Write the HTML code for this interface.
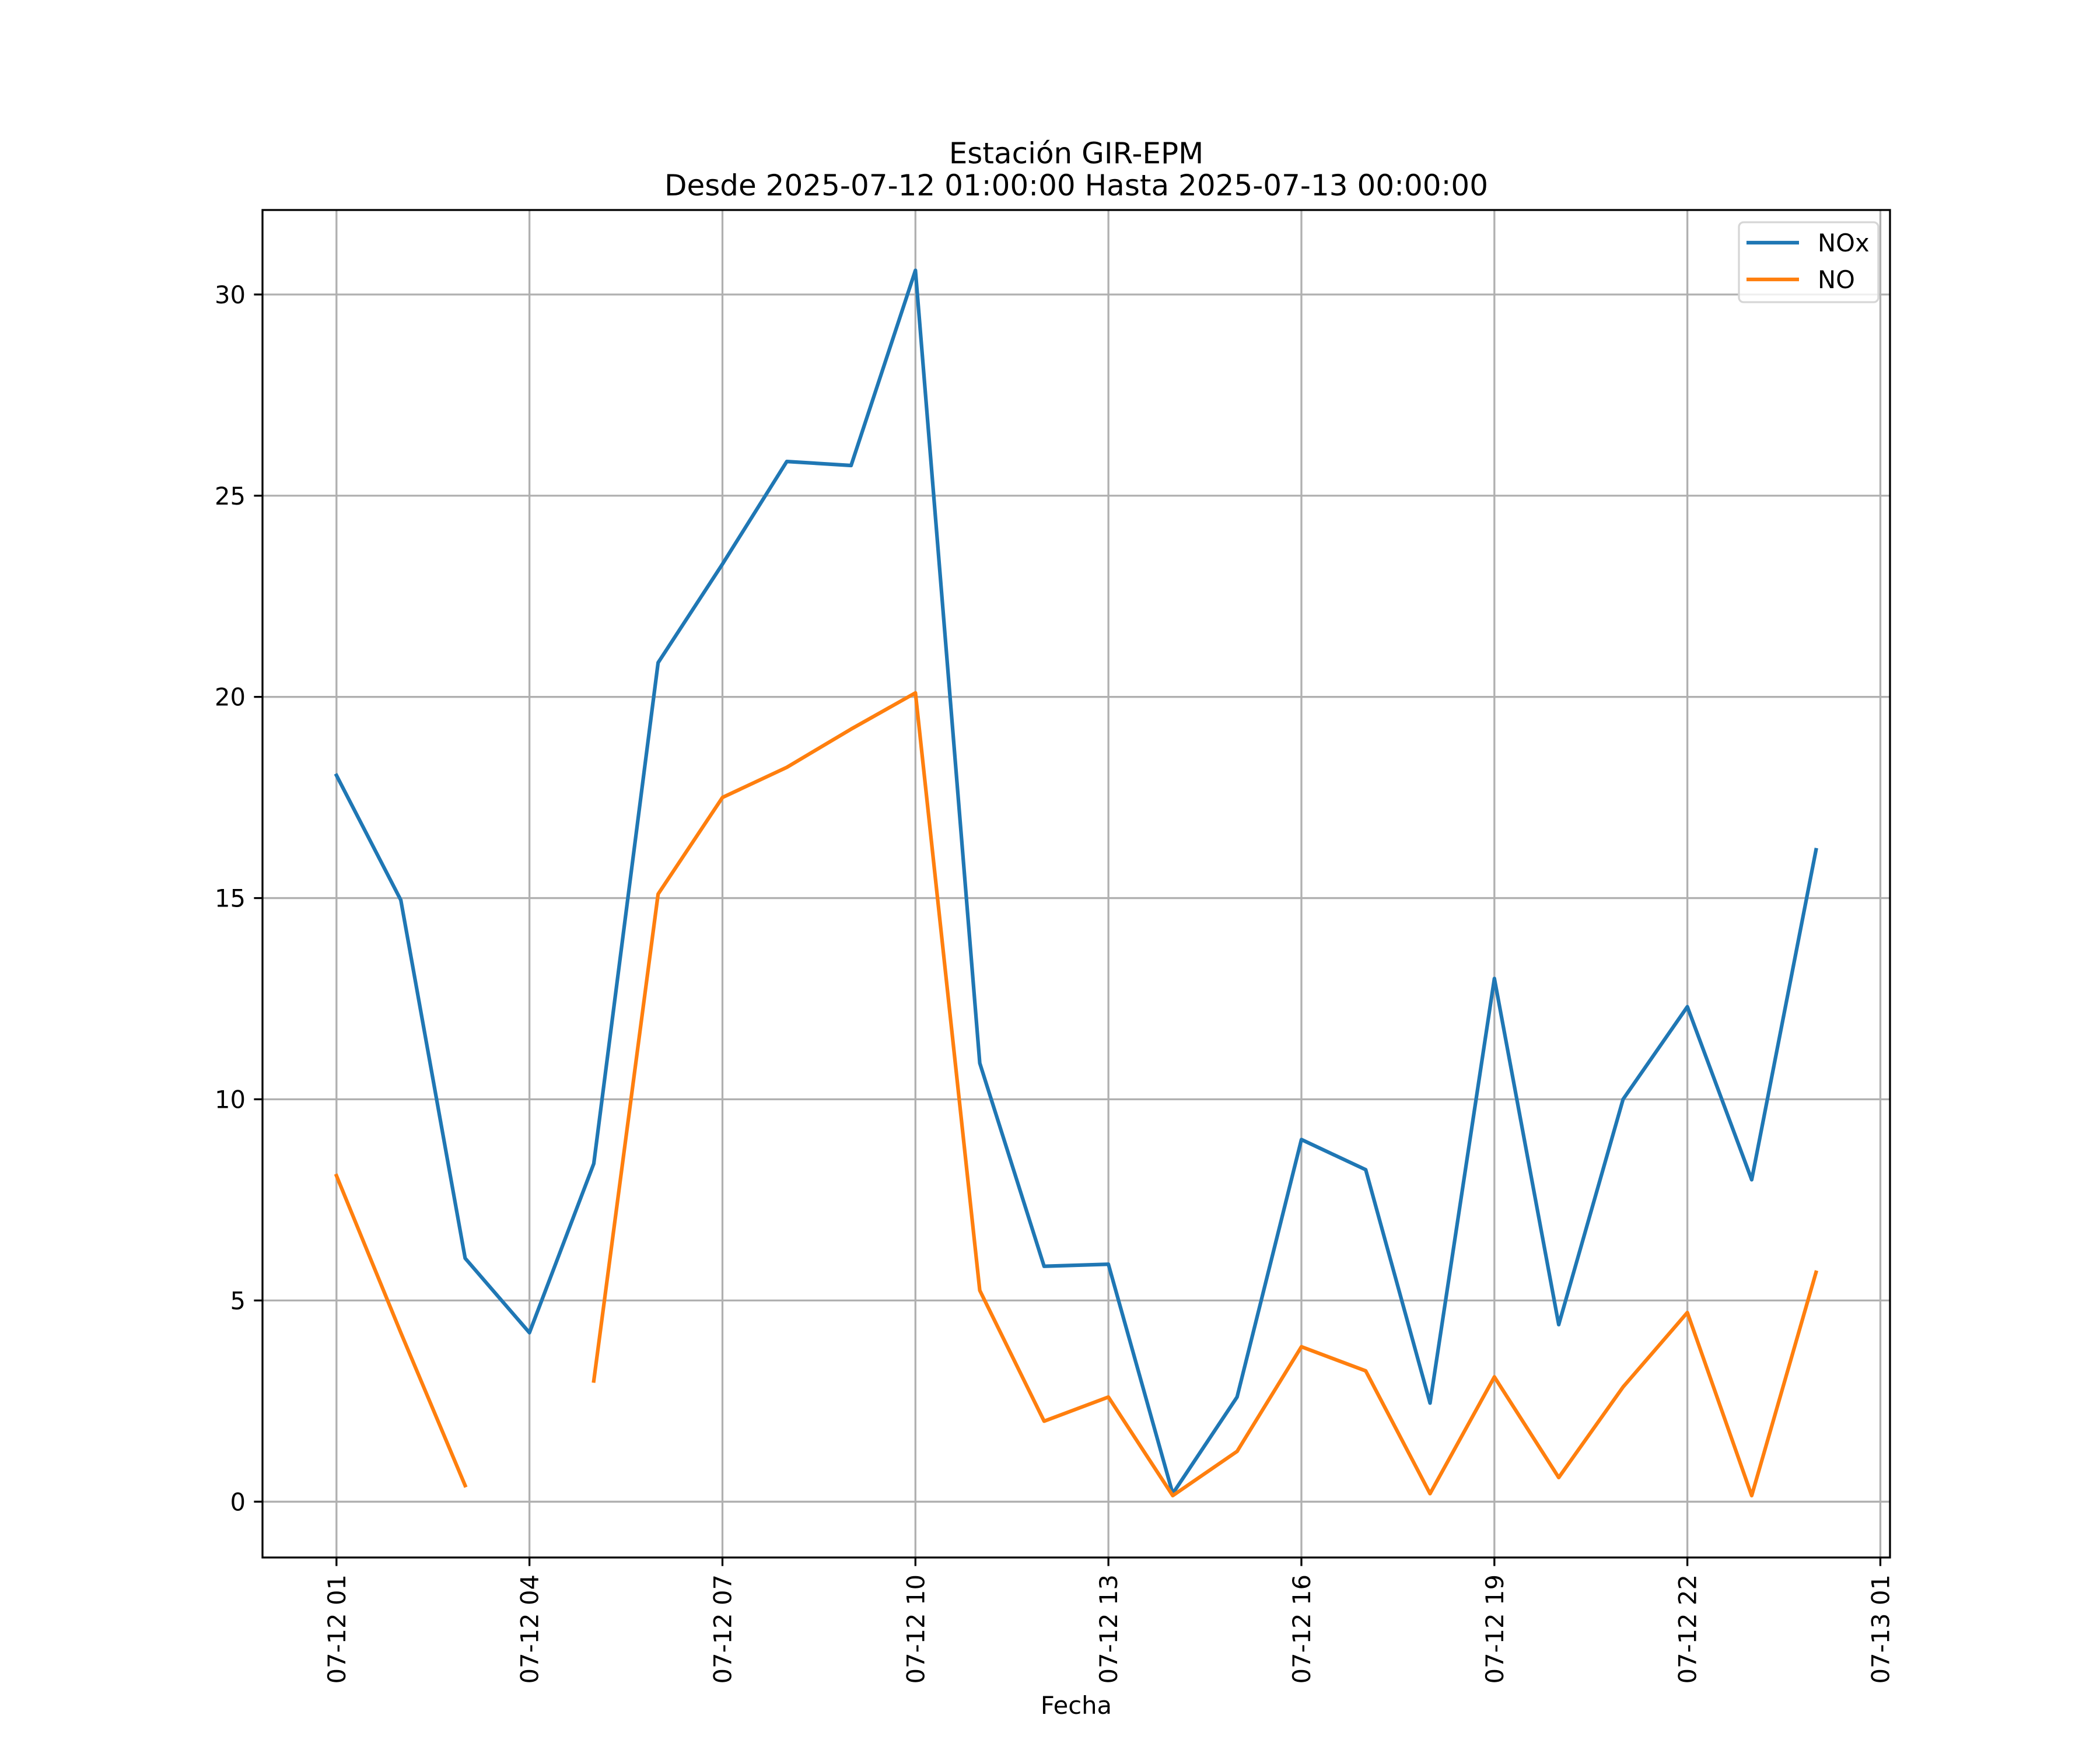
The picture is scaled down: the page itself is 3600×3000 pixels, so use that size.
<!DOCTYPE html>
<html><head><meta charset="utf-8"><style>
html,body{margin:0;padding:0;background:#fff;}
svg{display:block;font-family:"DejaVu Sans","Liberation Sans",sans-serif;}
</style></head><body>
<svg id="chart" width="3600" height="3000" viewBox="0 0 3600 3000" xmlns="http://www.w3.org/2000/svg">
<rect x="0" y="0" width="3600" height="3000" fill="#fff"/>
<g id="grid"></g>
<g id="series"></g>
<g id="axes"></g>
<text x="1845" y="280" font-size="50" text-anchor="middle">Estación GIR-EPM</text>
<text x="1845" y="335" font-size="50" text-anchor="middle">Desde 2025-07-12 01:00:00 Hasta 2025-07-13 00:00:00</text>
<text x="1845" y="2938" font-size="41.7" text-anchor="middle">Fecha</text>
<g>
<rect x="2981" y="381" width="239" height="137" rx="8" fill="#fff" fill-opacity="0.8" stroke="#d6d6d6" stroke-width="3.3"/>
<line x1="2994" y1="416" x2="3084" y2="416" stroke="#1f77b4" stroke-width="6.25"/>
<text x="3116" y="431" font-size="41.7">NOx</text>
<line x1="2994" y1="479" x2="3084" y2="479" stroke="#ff7f0e" stroke-width="6.25"/>
<text x="3116" y="494" font-size="41.7">NO</text>
</g>
</svg>
<script>
const hours = [0,1,2,3,4,5,6,7,8,9,10,11,12,13,14,15,16,17,18,19,20,21,22,23];
const noxValues = [18.05,14.95,6.05,4.2,8.4,20.85,23.3,25.85,25.75,30.6,10.9,5.85,5.9,0.2,2.6,9.0,8.25,2.45,13.0,4.4,10.0,12.3,8.0,16.2];
const noValues = [8.1,4.2,0.4,null,3.0,15.1,17.5,18.25,19.2,20.1,5.25,2.0,2.6,0.15,1.25,3.85,3.25,0.2,3.1,0.6,2.85,4.7,0.15,5.7];
const xTickHours = [0,3,6,9,12,15,18,21,24];
const xTickLabels = ["07-12 01","07-12 04","07-12 07","07-12 10","07-12 13","07-12 16","07-12 19","07-12 22","07-13 01"];
const yTicks = [0,5,10,15,20,25,30];

const L=450,R=3240,T=360,B=2670;
const xMin=-1.15,xMax=24.15,yMin=-1.3875,yMax=32.1;
const xs=h=>L+(h-xMin)/(xMax-xMin)*(R-L);
const ys=v=>B-(v-yMin)/(yMax-yMin)*(B-T);
const NS="http://www.w3.org/2000/svg";
function mk(tag,attrs,parent){const e=document.createElementNS(NS,tag);for(const k in attrs)e.setAttribute(k,attrs[k]);parent.appendChild(e);return e;}
const grid=document.getElementById('grid'),axes=document.getElementById('axes'),series=document.getElementById('series');

xTickHours.forEach((h,i)=>{
  const x=xs(h);
  const g=mk('line',{x1:x,y1:T,x2:x,y2:B,stroke:'#b0b0b0','stroke-width':3.3},grid);
  
  
  const t=mk('line',{x1:x,y1:B,x2:x,y2:B+14.6,stroke:'#000','stroke-width':3.3},axes);
  
  
  const lb=mk('text',{x:0,y:0,'font-size':41.7,'text-anchor':'end',transform:`translate(${x+15},${B+29}) rotate(-90)`},axes);
  lb.textContent=xTickLabels[i];
  
  
});
yTicks.forEach(v=>{
  const y=ys(v);
  const g=mk('line',{x1:L,y1:y,x2:R,y2:y,stroke:'#b0b0b0','stroke-width':3.3},grid);
  
  
  const t=mk('line',{x1:L-14.6,y1:y,x2:L,y2:y,stroke:'#000','stroke-width':3.3},axes);
  
  
  const lb=mk('text',{x:L-29,y:y+15,'font-size':41.7,'text-anchor':'end'},axes);
  lb.textContent=String(v);
  
  
});
const frame=mk('rect',{x:L,y:T,width:R-L,height:B-T,fill:'none',stroke:'#000','stroke-width':3.3},axes);



function drawSeries(vals,color,name){
  let segs=[],cur=[];
  vals.forEach((v,i)=>{if(v===null){if(cur.length)segs.push(cur);cur=[];}else cur.push(xs(hours[i]).toFixed(1)+','+ys(v).toFixed(1));});
  if(cur.length)segs.push(cur);
  segs.forEach(s=>{
    const p=mk('polyline',{points:s.join(' '),fill:'none',stroke:color,'stroke-width':6.25,'stroke-linejoin':'round','stroke-linecap':'square'},series);
    
    
  });
}
drawSeries(noxValues,'#1f77b4','nox-line');
drawSeries(noValues,'#ff7f0e','no-line');
</script>
</body></html>
